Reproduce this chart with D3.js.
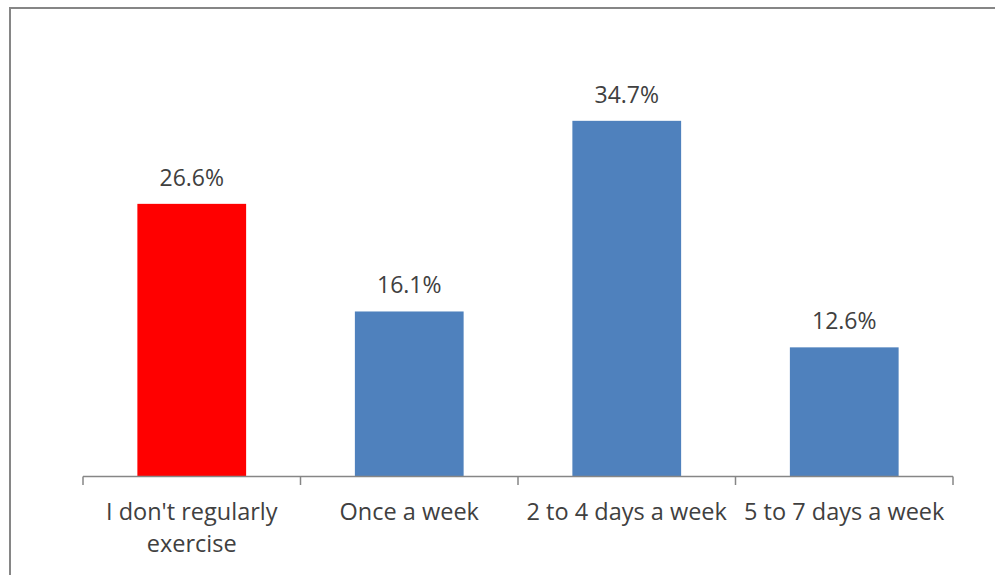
<!DOCTYPE html>
<html>
<head>
<meta charset="utf-8">
<script src="https://cdn.jsdelivr.net/npm/d3@7"></script>
<style>
  html, body { margin: 0; padding: 0; background: #ffffff; }
  svg { display: block; }
  text { font-family: "Open Sans", "Liberation Sans", sans-serif; fill: #404040; }
</style>
</head>
<body>
<svg id="chart" width="995" height="575"></svg>
<script>
// Exercise frequency responses (percent of respondents)
const categories = ["I don't regularly exercise", "Once a week", "2 to 4 days a week", "5 to 7 days a week"];
const values = [26.6, 16.1, 34.7, 12.6];
const barColors = ["#FF0000", "#4F81BD", "#4F81BD", "#4F81BD"];
const yDomain = [0, 40];

const svg = d3.select("#chart");

// Outer chart-area frame
svg.append("rect")
  .attr("x", 10).attr("y", 8)
  .attr("width", 1000).attr("height", 600)
  .attr("fill", "none")
  .attr("stroke", "#868686")
  .attr("stroke-width", 2);

const plot = { left: 83, right: 953, top: 66.5, bottom: 476.5 };

const x = d3.scaleBand()
  .domain(categories)
  .range([plot.left, plot.right])
  .paddingInner(0.5)
  .paddingOuter(0.25);

const y = d3.scaleLinear()
  .domain(yDomain)
  .range([plot.bottom, plot.top]);

// Bars
svg.append("g")
  .selectAll("rect")
  .data(categories)
  .join("rect")
  .attr("x", d => x(d))
  .attr("y", (d, i) => y(values[i]))
  .attr("width", x.bandwidth())
  .attr("height", (d, i) => y(0) - y(values[i]))
  .attr("fill", (d, i) => barColors[i]);

// Value labels
svg.append("g")
  .selectAll("text")
  .data(categories)
  .join("text")
  .attr("x", d => x(d) + x.bandwidth() / 2)
  .attr("y", (d, i) => y(values[i]) - 18)
  .attr("text-anchor", "middle")
  .style("font-size", "23px")
  .text((d, i) => values[i].toFixed(1) + "%");

// Category axis with boundary ticks
const step = x.step();
const boundaries = d3.range(categories.length + 1).map(i => plot.left + i * step);
const axis = svg.append("g");
axis.append("line")
  .attr("x1", plot.left).attr("x2", plot.right)
  .attr("y1", plot.bottom).attr("y2", plot.bottom)
  .attr("stroke", "#868686").attr("stroke-width", 1.5);
axis.selectAll("line.tick")
  .data(boundaries)
  .join("line")
  .attr("class", "tick")
  .attr("x1", d => d).attr("x2", d => d)
  .attr("y1", plot.bottom).attr("y2", plot.bottom + 8.5)
  .attr("stroke", "#868686").attr("stroke-width", 1.5);

// Category labels, wrapped to the category width
const maxW = step - 6;
const lineH = 32;
axis.selectAll("text.cat")
  .data(categories)
  .join("text")
  .attr("class", "cat")
  .attr("text-anchor", "middle")
  .style("font-size", "23.5px")
  .each(function (d) {
    const t = d3.select(this);
    const cx = x(d) + x.bandwidth() / 2;
    const words = d.split(" ");
    const lines = [];
    let cur = [];
    const probe = t.append("tspan");
    words.forEach(w => {
      const test = cur.concat([w]).join(" ");
      probe.text(test);
      if (probe.node().getComputedTextLength() > maxW && cur.length) {
        lines.push(cur.join(" "));
        cur = [w];
      } else {
        cur.push(w);
      }
    });
    lines.push(cur.join(" "));
    probe.remove();
    lines.forEach((ln, i) => {
      t.append("tspan")
        .attr("x", cx)
        .attr("y", 520 + i * lineH)
        .text(ln);
    });
  });
</script>
</body>
</html>
